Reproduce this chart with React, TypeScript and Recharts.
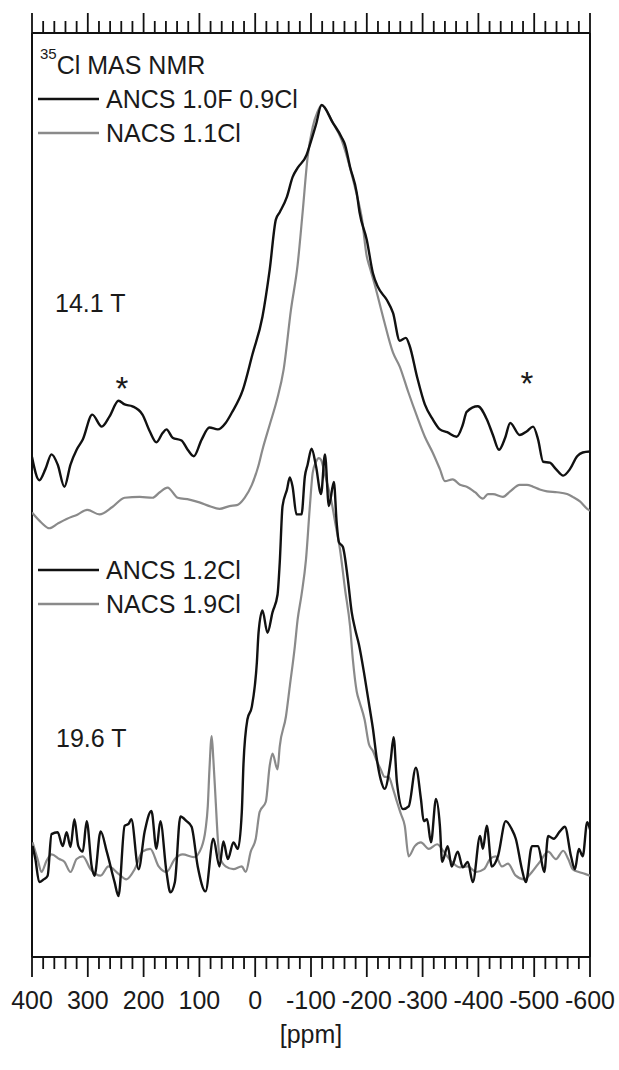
import { Line, LineChart, ReferenceLine, XAxis, YAxis } from "recharts";

type Pt = [number, number];

// 14.1 T, upper pair of spectra: [ppm, intensity (a.u.)]
const ancs10F09Cl: Pt[] = [
  [400, 54.1], [387, 51.6], [376, 52.8], [365, 54.4], [354, 53.3], [342, 50.9], [331, 53.3],
  [320, 54.9], [309, 56.0], [292, 58.7], [275, 57.4], [261, 58.5], [245, 60.2], [234, 59.8],
  [220, 59.6], [202, 58.7], [189, 56.9], [177, 55.7], [166, 56.7], [159, 57.1], [148, 56.2],
  [132, 55.9], [121, 54.9], [110, 54.2], [96, 56.0], [82, 57.3], [67, 57.1], [53, 57.8],
  [42, 58.9], [22, 61.4], [5, 65.2], [-13, 69.3], [-26, 74.4], [-37, 79.8], [-44, 80.6],
  [-57, 82.3], [-67, 84.4], [-76, 85.4], [-92, 86.8], [-98, 87.9], [-109, 90.1], [-119, 92.2],
  [-139, 90.3], [-155, 88.7], [-161, 87.9], [-170, 85.5], [-182, 82.7], [-187, 80.6],
  [-200, 77.6], [-211, 74.0], [-220, 72.5], [-236, 71.1], [-247, 69.7], [-259, 66.7],
  [-270, 67.0], [-277, 66.1], [-290, 62.8], [-304, 59.8], [-318, 58.2], [-331, 57.1],
  [-344, 56.8], [-361, 56.3], [-372, 57.6], [-379, 59.0], [-399, 59.6], [-415, 58.2],
  [-426, 56.5], [-437, 54.9], [-448, 56.2], [-457, 57.8], [-474, 56.5], [-487, 56.9],
  [-498, 57.4], [-507, 56.0], [-516, 53.6], [-528, 53.5], [-539, 52.8], [-552, 52.1],
  [-564, 52.8], [-577, 54.2], [-587, 54.6], [-600, 54.7],
];

const nacs11Cl: Pt[] = [
  [400, 48.1], [383, 47.0], [369, 46.4], [354, 46.9], [338, 47.4], [318, 47.9], [301, 48.4],
  [279, 47.9], [256, 48.7], [234, 49.7], [207, 49.8], [184, 49.7], [171, 50.3], [157, 50.8],
  [139, 49.7], [118, 49.5], [100, 49.2], [82, 48.8], [64, 48.5], [46, 48.8], [33, 48.9],
  [19, 49.7], [6, 51.1], [-5, 53.0], [-13, 54.9], [-26, 57.6], [-39, 60.3], [-51, 63.6],
  [-64, 70.0], [-76, 74.9], [-85, 80.6], [-94, 86.6], [-103, 89.8], [-112, 91.5], [-119, 92.2],
  [-139, 90.3], [-155, 88.4], [-170, 85.4], [-182, 82.5], [-191, 80.0], [-200, 75.8],
  [-205, 74.7], [-214, 72.8], [-229, 69.3], [-247, 65.4], [-259, 63.9], [-274, 61.2],
  [-290, 58.5], [-304, 56.3], [-318, 54.6], [-331, 52.8], [-340, 51.5], [-354, 51.7],
  [-367, 51.1], [-379, 50.9], [-394, 50.3], [-408, 49.6], [-417, 50.1], [-426, 50.1],
  [-444, 49.8], [-457, 50.4], [-474, 51.1], [-487, 51.1], [-498, 50.9], [-510, 50.6],
  [-523, 50.4], [-541, 50.3], [-559, 50.1], [-569, 49.8], [-582, 49.3], [-595, 48.5],
  [-600, 48.3],
];

// 19.6 T, lower pair
const ancs12Cl: Pt[] = [
  [399, 12.0], [394, 10.6], [387, 8.1], [379, 8.4], [372, 8.8], [365, 13.3], [354, 13.5],
  [345, 12.0], [338, 13.5], [331, 11.9], [324, 14.9], [317, 12.0], [309, 11.4], [302, 14.7],
  [293, 9.8], [288, 8.8], [277, 13.6], [266, 11.4], [252, 8.1], [245, 6.6], [234, 14.2],
  [227, 14.4], [222, 14.9], [209, 9.5], [198, 13.6], [186, 15.8], [177, 11.7], [170, 14.7],
  [159, 9.2], [152, 7.0], [144, 8.1], [134, 15.2], [123, 14.7], [114, 14.1], [103, 9.8],
  [89, 7.1], [75, 12.8], [64, 9.8], [57, 12.5], [49, 10.6], [39, 12.4], [31, 11.7],
  [24, 15.7], [21, 20.9], [14, 25.7], [6, 27.1], [-3, 31.9], [-6, 35.1], [-13, 37.5],
  [-22, 35.1], [-31, 37.3], [-40, 39.2], [-44, 42.7], [-49, 48.8], [-57, 50.6], [-62, 51.9],
  [-67, 50.9], [-74, 47.9], [-83, 47.9], [-89, 52.0], [-94, 53.3], [-101, 55.0], [-109, 53.1],
  [-118, 50.1], [-125, 54.4], [-132, 48.8], [-141, 51.4], [-146, 47.0], [-150, 44.9],
  [-157, 44.4], [-166, 40.9], [-173, 37.3], [-179, 35.5], [-186, 33.8], [-196, 30.4],
  [-205, 27.0], [-211, 24.7], [-218, 21.4], [-225, 19.2], [-232, 18.2], [-243, 21.4],
  [-248, 23.8], [-254, 18.9], [-265, 16.0], [-275, 16.3], [-288, 20.5], [-297, 17.1],
  [-302, 14.7], [-308, 14.9], [-315, 12.4], [-324, 17.1], [-331, 14.2], [-335, 10.3],
  [-345, 12.0], [-352, 9.8], [-363, 11.4], [-372, 9.7], [-381, 10.3], [-390, 8.1],
  [-403, 13.1], [-408, 11.7], [-415, 14.2], [-424, 9.8], [-435, 10.9], [-449, 14.7],
  [-460, 13.8], [-467, 12.8], [-478, 9.5], [-485, 8.1], [-496, 12.0], [-507, 12.0],
  [-518, 9.2], [-525, 13.1], [-535, 12.8], [-546, 13.6], [-555, 14.1], [-566, 10.9],
  [-573, 9.5], [-580, 11.7], [-587, 10.9], [-595, 14.6], [-600, 13.8],
];

const nacs19Cl: Pt[] = [
  [399, 12.4], [390, 10.6], [383, 9.2], [374, 10.4], [365, 11.1], [351, 10.6], [342, 10.3],
  [331, 9.2], [320, 10.6], [309, 10.9], [295, 9.5], [277, 8.8], [263, 9.8], [245, 9.0],
  [231, 8.4], [216, 9.5], [202, 11.4], [188, 11.7], [173, 9.8], [159, 9.2], [144, 10.6],
  [130, 11.1], [110, 10.8], [96, 11.9], [89, 13.8], [85, 16.3], [82, 20.3], [78, 23.9],
  [75, 21.4], [71, 17.1], [67, 12.8], [64, 10.9], [53, 9.8], [39, 9.5], [24, 9.8], [17, 9.2],
  [8, 11.4], [-1, 12.8], [-8, 15.7], [-19, 16.8], [-26, 20.7], [-31, 22.0], [-40, 20.3],
  [-44, 22.8], [-55, 26.0], [-62, 29.3], [-71, 33.6], [-76, 36.5], [-83, 39.2], [-91, 43.0],
  [-98, 48.8], [-103, 52.4], [-109, 53.6], [-114, 54.0], [-118, 53.8], [-125, 52.2],
  [-137, 49.2], [-144, 46.8], [-152, 44.1], [-161, 39.8], [-170, 35.8], [-175, 32.2],
  [-182, 28.7], [-187, 27.6], [-196, 25.7], [-204, 23.0], [-211, 22.3], [-218, 21.2],
  [-225, 20.3], [-232, 19.5], [-239, 19.5], [-247, 18.2], [-254, 16.8], [-261, 15.5],
  [-268, 14.2], [-275, 10.9], [-286, 12.0], [-297, 12.4], [-311, 11.7], [-326, 12.2],
  [-338, 11.4], [-352, 10.3], [-367, 9.7], [-381, 9.8], [-396, 9.2], [-410, 9.5],
  [-421, 10.6], [-431, 10.9], [-442, 9.8], [-453, 10.1], [-467, 8.8], [-482, 8.4],
  [-496, 9.2], [-510, 10.3], [-525, 11.4], [-539, 10.6], [-552, 11.5], [-561, 10.6],
  [-569, 9.5], [-580, 9.2], [-591, 9.0], [-600, 8.8],
];

const xTicks: number[] = [];
for (let v = 400; v >= -600; v -= 20) xTicks.push(v);

const FONT = "'Liberation Sans', Arial, sans-serif";
const INK = "#111";
const GREY = "#8a8a8a";

const toRows = (pts: Pt[]) => pts.map(([ppm, v]) => ({ ppm, v }));

function BottomTick({ x, y, payload }: any) {
  const major = payload.value % 100 === 0;
  return (
    <g>
      <line x1={x} x2={x} y1={y} y2={y + (major ? 20 : 12)} stroke={INK} strokeWidth={1.8} />
      {major && (
        <text x={x} y={y + 52} textAnchor="middle" fontSize={25} fontFamily={FONT} fill="#1a1a1a">
          {payload.value}
        </text>
      )}
    </g>
  );
}

function TopTick({ x, y, payload }: any) {
  const major = payload.value % 100 === 0;
  return <line x1={x} x2={x} y1={y} y2={y - (major ? 20 : 12)} stroke={INK} strokeWidth={1.8} />;
}

function LegendRow({ y, color, label }: { y: number; color: string; label: string }) {
  return (
    <g>
      <line x1={38} x2={99} y1={y} y2={y} stroke={color} strokeWidth={2.4} />
      <text x={106} y={y + 9} fontSize={25} fontFamily={FONT} fill="#1a1a1a">
        {label}
      </text>
    </g>
  );
}

export default function App() {
  return (
    <div style={{ position: "absolute", left: 0, top: 0, width: 619, height: 1070, background: "#fff" }}>
      <LineChart width={619} height={1070} margin={{ top: 13, right: 29, bottom: 0, left: 32 }}>
        <XAxis
          xAxisId="top"
          orientation="top"
          type="number"
          dataKey="ppm"
          domain={[-600, 400]}
          reversed
          allowDataOverflow
          ticks={xTicks}
          interval={0}
          height={20}
          tickSize={0}
          tickMargin={0}
          tickLine={false}
          tick={<TopTick />}
          axisLine={{ stroke: INK, strokeWidth: 2 }}
        />
        <XAxis
          xAxisId="bottom"
          orientation="bottom"
          type="number"
          dataKey="ppm"
          domain={[-600, 400]}
          reversed
          allowDataOverflow
          ticks={xTicks}
          interval={0}
          height={113}
          tickSize={0}
          tickMargin={0}
          tickLine={false}
          tick={<BottomTick />}
          axisLine={{ stroke: INK, strokeWidth: 2 }}
        />
        <YAxis hide domain={[0, 100]} type="number" />
        <ReferenceLine xAxisId="bottom" x={400} stroke={INK} strokeWidth={2} />
        <ReferenceLine xAxisId="bottom" x={-600} stroke={INK} strokeWidth={2} />
        {/* invisible copy so the top (mirror) axis gets a scale and is drawn */}
        <Line xAxisId="top" data={toRows(nacs11Cl)} dataKey="v" stroke="transparent" strokeWidth={0} dot={false} activeDot={false} isAnimationActive={false} />
        <Line xAxisId="bottom" data={toRows(nacs11Cl)} dataKey="v" type="monotone" stroke={GREY} strokeWidth={2.2} dot={false} isAnimationActive={false} />
        <Line xAxisId="bottom" data={toRows(ancs10F09Cl)} dataKey="v" type="monotone" stroke={INK} strokeWidth={2.4} dot={false} isAnimationActive={false} />
        <Line xAxisId="bottom" data={toRows(nacs19Cl)} dataKey="v" type="monotone" stroke={GREY} strokeWidth={2.2} dot={false} isAnimationActive={false} />
        <Line xAxisId="bottom" data={toRows(ancs12Cl)} dataKey="v" type="monotone" stroke={INK} strokeWidth={2.4} dot={false} isAnimationActive={false} />
      </LineChart>
      <svg width={619} height={1070} style={{ position: "absolute", left: 0, top: 0, pointerEvents: "none" }}>
        <text x={40} y={74} fontSize={25} fontFamily={FONT} fill="#1a1a1a">
          <tspan fontSize={15} dy={-15}>35</tspan>
          <tspan dy={15}>Cl MAS NMR</tspan>
        </text>
        <LegendRow y={99} color={INK} label="ANCS 1.0F 0.9Cl" />
        <LegendRow y={133} color={GREY} label="NACS 1.1Cl" />
        <text x={55} y={312} fontSize={25} fontFamily={FONT} fill="#1a1a1a">14.1 T</text>
        <text x={122} y={400} fontSize={33} fontFamily={FONT} textAnchor="middle" fill="#1a1a1a">*</text>
        <text x={527} y={395} fontSize={33} fontFamily={FONT} textAnchor="middle" fill="#1a1a1a">*</text>
        <LegendRow y={570} color={INK} label="ANCS 1.2Cl" />
        <LegendRow y={604} color={GREY} label="NACS 1.9Cl" />
        <text x={56} y={747} fontSize={25} fontFamily={FONT} fill="#1a1a1a">19.6 T</text>
        <text x={311} y={1043} fontSize={25} fontFamily={FONT} textAnchor="middle" fill="#1a1a1a">[ppm]</text>
      </svg>
    </div>
  );
}
